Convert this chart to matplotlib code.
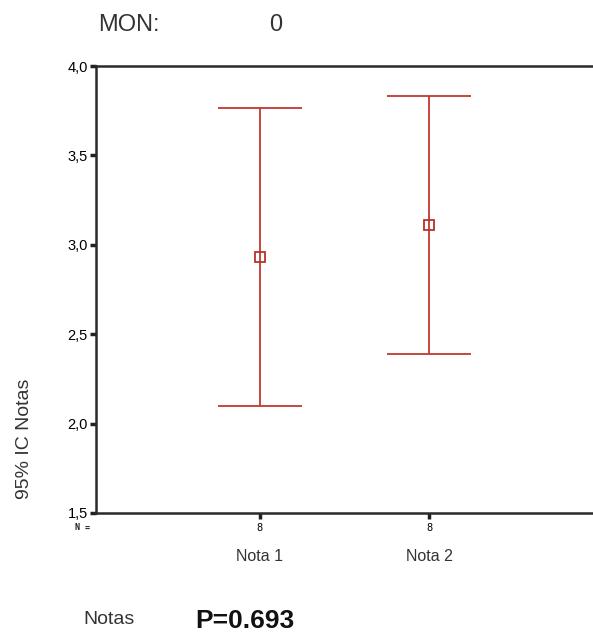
import matplotlib.pyplot as plt

plt.rcParams['font.family'] = ['Liberation Sans', 'DejaVu Sans']

groups = ['Nota 1', 'Nota 2']
n_counts = [8, 8]
means = [2.93, 3.11]
lower = [2.10, 2.39]
upper = [3.765, 3.83]

fig = plt.figure(figsize=(5.93, 6.35), dpi=100, facecolor='white')
ax = fig.add_axes([96 / 593, 1 - 513 / 635, 1 - 96 / 593, (513 - 66) / 635])

xs = [1, 2]
yerr = [[m - lo for m, lo in zip(means, lower)],
        [up - m for m, up in zip(means, upper)]]
line, caps, bars = ax.errorbar(xs, means, yerr=yerr, fmt='s', ms=7,
                               mfc='none', mec='#b8322c', mew=1.3,
                               ecolor='#c0392f', elinewidth=1.3,
                               capsize=30, capthick=1.6, zorder=3)
for c in caps:
    c.set_color('#6e5553')

ax.set_xlim(0.03, 2.97)
ax.set_ylim(1.5, 4.0)
ax.set_yticks([1.5, 2.0, 2.5, 3.0, 3.5, 4.0])
ax.set_yticklabels(['1,5', '2,0', '2,5', '3,0', '3,5', '4,0'], fontsize=10.5)
ax.set_xticks(xs)
ax.set_xticklabels([str(n) for n in n_counts], fontsize=7.5, family='DejaVu Sans Mono')
ax.tick_params(axis='y', length=4, width=2.5, pad=2, color='#222222')
ax.tick_params(axis='x', length=4, width=2.5, pad=3, color='#222222')
ax.spines['right'].set_visible(False)
for s in ['left', 'top', 'bottom']:
    ax.spines[s].set_linewidth(1.8)
    ax.spines[s].set_color('#2a2a2a')

for x, g in zip(xs, groups):
    ax.annotate(g, xy=(x, 0), xycoords=('data', 'axes fraction'),
                xytext=(0, -31), textcoords='offset points',
                ha='center', va='center', fontsize=11.5, color='#333333')

fig.text(83 / 593, 1 - 528 / 635, 'N =', fontsize=6, ha='center', va='center',
         family='DejaVu Sans Mono', weight='bold', color='#222222')
fig.text(25 / 593, 1 - 439 / 635, '95% IC Notas', rotation=90, fontsize=14,
         ha='center', va='center', color='#333333')
fig.text(129 / 593, 1 - 25 / 635, 'MON:', fontsize=17, ha='center', va='center', color='#333333')
fig.text(276 / 593, 1 - 25 / 635, '0', fontsize=17, ha='center', va='center', color='#333333')
fig.text(109 / 593, 1 - 619 / 635, 'Notas', fontsize=14, ha='center', va='center', color='#333333')
fig.text(245 / 593, 1 - 621 / 635, 'P=0.693', fontsize=19, weight='bold',
         ha='center', va='center', color='#111111')

plt.savefig('out.png', dpi=100, facecolor=fig.get_facecolor())
